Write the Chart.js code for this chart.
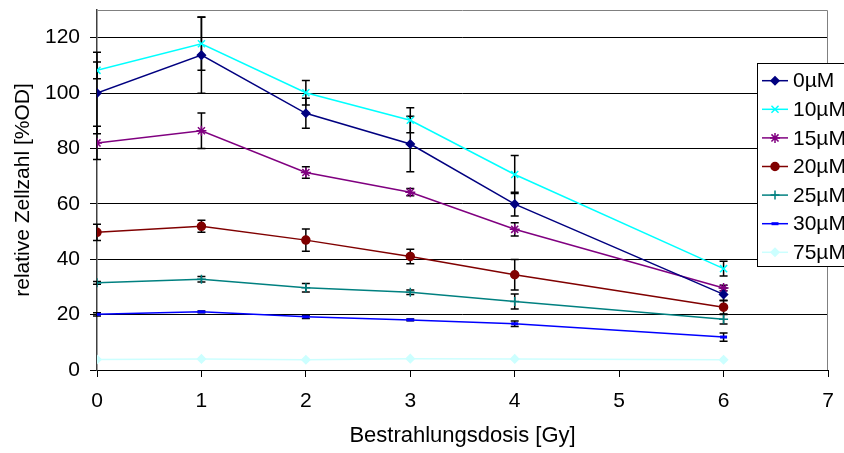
<!DOCTYPE html>
<html>
<head>
<meta charset="utf-8">
<script src="https://cdn.jsdelivr.net/npm/chart.js@4/dist/chart.umd.min.js"></script>
<style>
html,body{margin:0;padding:0;background:#fff;}
#wrap{width:844px;height:453px;position:relative;}
</style>
</head>
<body>
<div id="wrap"><canvas id="c" width="844" height="453"></canvas></div>
<script>
const doses = [0, 1, 2, 3, 4, 6];
const seriesNames = ['0µM', '10µM', '15µM', '20µM', '25µM', '30µM', '75µM'];
const s0  = [100.0, 113.7, 92.7, 81.6, 59.9, 27.3];
const s10 = [108.2, 117.8, 100.1, 90.2, 70.6, 36.6];
const s15 = [82.0, 86.4, 71.3, 64.2, 50.8, 29.6];
const s20 = [49.7, 51.9, 46.9, 41.0, 34.4, 22.7];
const s25 = [31.5, 32.8, 29.7, 28.1, 24.7, 18.3];
const s30 = [20.1, 21.0, 19.2, 18.1, 16.7, 11.9];
const s75 = [3.8, 4.0, 3.7, 4.1, 4.0, 3.7];
const e0  = [14.7, 13.8, 5.4, 10.0, 4.3, 2.3];
const e10 = [3.0, 9.6, 4.4, 4.5, 6.9, 2.7];
const e15 = [6.0, 6.4, 2.1, 1.3, 2.4, 1.0];
const e20 = [2.9, 2.2, 4.0, 2.6, 5.5, 2.5];
const e25 = [0.5, 1.0, 1.5, 0.8, 2.7, 1.7];
const e30 = [0.6, 0.3, 0.6, 0.3, 1.0, 1.5];
const e75 = [0, 0, 0, 0, 0, 0];
const yTicks = [0, 20, 40, 60, 80, 100, 120];
const xTicks = [0, 1, 2, 3, 4, 5, 6, 7];

const FONT = 'Liberation Sans, Arial, sans-serif';
const styles = [
  {c:'#000080', p:'rectRot', r:4},
  {c:'#00FFFF', p:'crossRot', r:5},
  {c:'#800080', p:'star', r:5},
  {c:'#800000', p:'circle', r:4},
  {c:'#008080', p:'cross', r:4.5},
  {c:'#0000FF', p:'line', r:3.5},
  {c:'#CCFFFF', p:'rectRot', r:4}
];
const vals = [s0, s10, s15, s20, s25, s30, s75];
const errs = [e0, e10, e15, e20, e25, e30, e75];

const datasets = seriesNames.map((n, i) => ({
  label: n,
  data: doses.map((d, k) => ({x: d, y: vals[i][k]})),
  errors: errs[i],
  borderColor: styles[i].c,
  backgroundColor: styles[i].c,
  borderWidth: 1.5,
  pointStyle: styles[i].p,
  pointRadius: styles[i].r,
  pointBorderWidth: styles[i].p === 'line' ? 3 : 1.5,
  pointBackgroundColor: styles[i].c,
  pointBorderColor: styles[i].c,
  tension: 0,
  fill: false
}));

const errorBars = {
  id: 'errorBars',
  beforeDatasetsDraw(chart) {
    const ctx = chart.ctx, xs = chart.scales.x, ys = chart.scales.y;
    ctx.save();
    ctx.strokeStyle = '#000';
    ctx.lineWidth = 1.5;
    chart.data.datasets.forEach(ds => {
      ds.data.forEach((pt, k) => {
        const e = ds.errors[k];
        if (!e) return;
        const px = xs.getPixelForValue(pt.x);
        const yt = ys.getPixelForValue(pt.y + e);
        const yb = ys.getPixelForValue(pt.y - e);
        ctx.beginPath();
        ctx.moveTo(px, yt); ctx.lineTo(px, yb);
        ctx.moveTo(px - 4, yt); ctx.lineTo(px + 4, yt);
        ctx.moveTo(px - 4, yb); ctx.lineTo(px + 4, yb);
        ctx.stroke();
      });
    });
    ctx.restore();
  }
};

function drawMarker(ctx, st, x, y) {
  if (Chart.helpers && Chart.helpers.drawPoint) {
    Chart.helpers.drawPoint(ctx, {pointStyle: st.p, radius: st.r, borderWidth: st.p === 'line' ? 3 : 1.5, rotation: 0}, x, y);
  }
}

const frame = {
  id: 'frame',
  afterDraw(chart) {
    const ctx = chart.ctx, a = chart.chartArea;
    ctx.save();
    ctx.strokeStyle = '#808080';
    ctx.lineWidth = 1;
    ctx.beginPath();
    ctx.moveTo(Math.round(a.left) + 0.5, Math.round(a.top) + 0.5);
    ctx.lineTo(Math.round(a.right) - 0.5, Math.round(a.top) + 0.5);
    ctx.lineTo(Math.round(a.right) - 0.5, Math.round(a.bottom));
    ctx.stroke();
    const lx = 757, ly = 63, lw = 100, lh = 203;
    ctx.fillStyle = '#fff';
    ctx.fillRect(lx, ly, lw, lh);
    ctx.strokeStyle = '#000';
    ctx.lineWidth = 1;
    ctx.strokeRect(lx + 0.5, ly + 0.5, lw, lh);
    ctx.font = '21px ' + FONT;
    ctx.textBaseline = 'middle';
    ctx.textAlign = 'left';
    chart.data.datasets.forEach((ds, i) => {
      const y = 80.7 + i * 28.6;
      const st = styles[i];
      ctx.strokeStyle = st.c;
      ctx.lineWidth = 1.5;
      ctx.beginPath();
      ctx.moveTo(762, y); ctx.lineTo(788, y);
      ctx.stroke();
      ctx.fillStyle = st.c;
      ctx.strokeStyle = st.c;
      ctx.lineWidth = st.p === 'line' ? 3 : 1.5;
      drawMarker(ctx, st, 775, y);
      ctx.fillStyle = '#000';
      ctx.fillText(ds.label, 793, y + 1);
    });
    ctx.restore();
  }
};

new Chart(document.getElementById('c'), {
  type: 'line',
  data: { datasets },
  options: {
    responsive: false,
    animation: false,
    devicePixelRatio: 1,
    layout: { padding: { top: 10, right: 16, left: 0, bottom: 0 } },
    plugins: { legend: { display: false }, tooltip: { enabled: false } },
    scales: {
      x: {
        type: 'linear', min: 0, max: 7,
        afterBuildTicks(s) { s.ticks = xTicks.map(v => ({value: v})); },
        afterFit(s) { s.height = 83; s.paddingLeft = 0; s.paddingRight = 0; },
        grid: { drawOnChartArea: false, drawTicks: true, tickLength: 7, color: '#000', lineWidth: 1 },
        border: { color: '#000', width: 1 },
        ticks: { color: '#000', font: { family: FONT, size: 21 }, padding: 12, maxRotation: 0, autoSkip: false },
        title: { display: true, text: 'Bestrahlungsdosis [Gy]', color: '#000', font: { family: FONT, size: 22 }, padding: { top: 0, bottom: 4 } }
      },
      y: {
        type: 'linear', min: 0, max: 130,
        afterBuildTicks(s) { s.ticks = yTicks.map(v => ({value: v})); },
        afterFit(s) { s.width = 97; s.paddingTop = 0; s.paddingBottom = 0; },
        grid: { color: '#000', lineWidth: 1, tickLength: 7, drawTicks: true },
        border: { color: '#404040', width: 1.5 },
        ticks: { color: '#000', font: { family: FONT, size: 21 }, padding: 10 },
        title: { display: true, text: 'relative Zellzahl [%OD]', color: '#000', font: { family: FONT, size: 21 }, padding: { top: 11, bottom: 0 } }
      }
    }
  },
  plugins: [errorBars, frame]
});
</script>
</body>
</html>
